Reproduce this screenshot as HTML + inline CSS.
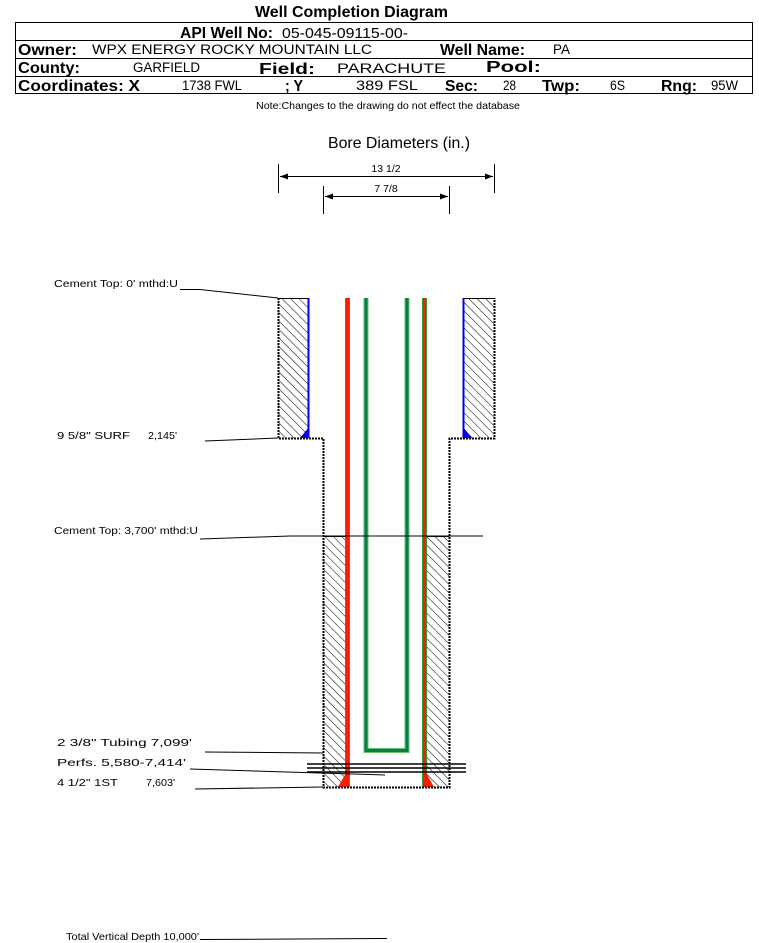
<!DOCTYPE html>
<html><head><meta charset="utf-8"><style>
html,body{margin:0;padding:0;background:#fff;width:759px;height:943px;overflow:hidden}
svg{display:block}
text{font-family:"Liberation Sans",Arial,sans-serif;fill:#000}
</style></head><body>
<svg width="759" height="943" viewBox="0 0 759 943" xmlns="http://www.w3.org/2000/svg">
<defs>
<pattern id="h" patternUnits="userSpaceOnUse" width="6" height="6" patternTransform="rotate(-45)">
<rect width="6" height="6" fill="#fff"/><line x1="0" y1="0" x2="0" y2="6" stroke="#000" stroke-width="1"/>
</pattern>
<marker id="a" markerWidth="8" markerHeight="6" refX="8" refY="3" orient="auto"><path d="M0,0 L8,3 L0,6z" fill="#000"/></marker>
<marker id="b" markerWidth="8" markerHeight="6" refX="0" refY="3" orient="auto"><path d="M8,0 L0,3 L8,6z" fill="#000"/></marker>
</defs>
<g lengthAdjust="spacingAndGlyphs">
<text x="255" y="17" font-size="16" font-weight="bold" textLength="193" lengthAdjust="spacingAndGlyphs">Well Completion Diagram</text>
</g>
<rect x="15.5" y="22.5" width="737" height="71" fill="none" stroke="#000"/>
<line x1="15" y1="40.5" x2="753" y2="40.5" stroke="#000"/>
<line x1="15" y1="58.5" x2="753" y2="58.5" stroke="#000"/>
<line x1="15" y1="76.5" x2="753" y2="76.5" stroke="#000"/>
<text x="180" y="38" font-size="16" font-weight="bold" textLength="93" lengthAdjust="spacingAndGlyphs">API Well No:</text>
<text x="282" y="38" font-size="15" textLength="126" lengthAdjust="spacingAndGlyphs">05-045-09115-00-</text>
<text x="18" y="55" font-size="16" font-weight="bold" textLength="59" lengthAdjust="spacingAndGlyphs">Owner:</text>
<text x="92" y="54" font-size="13.5" textLength="280" lengthAdjust="spacingAndGlyphs">WPX ENERGY ROCKY MOUNTAIN LLC</text>
<text x="440" y="55" font-size="16" font-weight="bold" textLength="85" lengthAdjust="spacingAndGlyphs">Well Name:</text>
<text x="553" y="54" font-size="13.5" textLength="17" lengthAdjust="spacingAndGlyphs">PA</text>
<text x="18" y="73" font-size="16" font-weight="bold" textLength="62" lengthAdjust="spacingAndGlyphs">County:</text>
<text x="133" y="72" font-size="13.5" textLength="67" lengthAdjust="spacingAndGlyphs">GARFIELD</text>
<text x="259" y="74" font-size="16" font-weight="bold" textLength="56" lengthAdjust="spacingAndGlyphs">Field:</text>
<text x="337" y="73" font-size="13.5" textLength="109" lengthAdjust="spacingAndGlyphs">PARACHUTE</text>
<text x="486" y="72" font-size="16" font-weight="bold" textLength="55" lengthAdjust="spacingAndGlyphs">Pool:</text>
<text x="18" y="91" font-size="16" font-weight="bold" textLength="122" lengthAdjust="spacingAndGlyphs">Coordinates: X</text>
<text x="182" y="90" font-size="13.5" textLength="60" lengthAdjust="spacingAndGlyphs">1738 FWL</text>
<text x="285" y="91" font-size="16" font-weight="bold" textLength="18" lengthAdjust="spacingAndGlyphs">; Y</text>
<text x="356" y="90" font-size="13.5" textLength="62" lengthAdjust="spacingAndGlyphs">389 FSL</text>
<text x="445" y="91" font-size="16" font-weight="bold" textLength="33" lengthAdjust="spacingAndGlyphs">Sec:</text>
<text x="503" y="90" font-size="13.5" textLength="13" lengthAdjust="spacingAndGlyphs">28</text>
<text x="542" y="91" font-size="16" font-weight="bold" textLength="38" lengthAdjust="spacingAndGlyphs">Twp:</text>
<text x="610" y="90" font-size="13.5" textLength="15" lengthAdjust="spacingAndGlyphs">6S</text>
<text x="661" y="91" font-size="16" font-weight="bold" textLength="36" lengthAdjust="spacingAndGlyphs">Rng:</text>
<text x="711" y="90" font-size="13.5" textLength="27" lengthAdjust="spacingAndGlyphs">95W</text>
<text x="256" y="109" font-size="10" textLength="264" lengthAdjust="spacingAndGlyphs">Note:Changes to the drawing do not effect the database</text>

<text x="328" y="148" font-size="16" textLength="142" lengthAdjust="spacingAndGlyphs">Bore Diameters (in.)</text>
<text x="386" y="172" text-anchor="middle" font-size="10.5">13 1/2</text>
<text x="386" y="192" text-anchor="middle" font-size="10.5">7 7/8</text>
<g stroke="#000" stroke-width="1">
<line x1="278.5" y1="164" x2="278.5" y2="193"/><line x1="494.5" y1="164" x2="494.5" y2="193"/>
<line x1="280" y1="176.5" x2="493" y2="176.5" marker-start="url(#b)" marker-end="url(#a)"/>
<line x1="323.5" y1="186" x2="323.5" y2="214"/><line x1="449.5" y1="186" x2="449.5" y2="214"/>
<line x1="325" y1="196.5" x2="448" y2="196.5" marker-start="url(#b)" marker-end="url(#a)"/>
</g>

<rect x="278" y="298" width="30" height="140" fill="url(#h)"/>
<rect x="464" y="298" width="30" height="140" fill="url(#h)"/>
<rect x="323" y="536" width="24" height="251" fill="url(#h)"/>
<rect x="425" y="536" width="24" height="251" fill="url(#h)"/>
<line x1="278" y1="298.5" x2="308" y2="298.5" stroke="#000"/>
<line x1="464" y1="298.5" x2="494" y2="298.5" stroke="#000"/>
<line x1="323" y1="536.5" x2="347" y2="536.5" stroke="#000"/>
<line x1="425" y1="536.5" x2="449" y2="536.5" stroke="#000"/>
<line x1="308.5" y1="298" x2="308.5" y2="438" stroke="#0000ee" stroke-width="2"/>
<line x1="463.5" y1="298" x2="463.5" y2="438" stroke="#0000ee" stroke-width="2"/>
<path d="M309,427 L309,438 L300,438z" fill="#0000ee"/>
<path d="M463,427 L463,438 L472,438z" fill="#0000ee"/>
<rect x="345" y="298" width="5" height="489" fill="#2a9a3a"/>
<rect x="346" y="298" width="3" height="489" fill="#ff1a00"/>
<rect x="422" y="298" width="5" height="489" fill="#2a9a3a"/>
<rect x="423" y="298" width="3" height="489" fill="#ff1a00"/>
<path d="M346,773 L346,787 L338,787z" fill="#ff1a00"/>
<path d="M426,773 L426,787 L434,787z" fill="#ff1a00"/>
<path d="M366,298 L366,750.5 L407,750.5 L407,298" fill="none" stroke="#6fbf6f" stroke-width="5"/>
<path d="M366,298 L366,750.5 L407,750.5 L407,298" fill="none" stroke="#00804a" stroke-width="3"/>
<path d="M278.5,298 L278.5,438.5 L323.5,438.5 L323.5,787.5 L449.5,787.5 L449.5,438.5 L494.5,438.5 L494.5,298" fill="none" stroke="#000" stroke-width="2" stroke-dasharray="2 1"/>
<g stroke="#000" stroke-width="1.5">
<line x1="307" y1="764" x2="466" y2="764"/><line x1="307" y1="768" x2="466" y2="768"/><line x1="307" y1="772" x2="466" y2="772"/>
</g>
<g font-size="10.5">
<text x="54" y="287" textLength="124" lengthAdjust="spacingAndGlyphs">Cement Top: 0' mthd:U</text>
<text x="57" y="439" textLength="73" lengthAdjust="spacingAndGlyphs">9 5/8" SURF</text><text x="148" y="439" textLength="29" lengthAdjust="spacingAndGlyphs">2,145'</text>
<text x="54" y="534" textLength="144" lengthAdjust="spacingAndGlyphs">Cement Top: 3,700' mthd:U</text>
<text x="57" y="746" textLength="135" lengthAdjust="spacingAndGlyphs">2 3/8" Tubing 7,099'</text>
<text x="57" y="766" textLength="129" lengthAdjust="spacingAndGlyphs">Perfs. 5,580-7,414'</text>
<text x="57" y="786" textLength="61" lengthAdjust="spacingAndGlyphs">4 1/2" 1ST</text><text x="146" y="786" textLength="29" lengthAdjust="spacingAndGlyphs">7,603'</text>
<text x="66" y="940" textLength="133" lengthAdjust="spacingAndGlyphs">Total Vertical Depth 10,000'</text>
</g>
<g stroke="#000" stroke-width="1" fill="none">
<path d="M180,289.5 L200,289.5 L278,298"/>
<path d="M205,441 L278,438"/>
<path d="M200,539 L290,536 L483,536"/>
<path d="M205,752 L323,753"/>
<path d="M190,769 L385,775"/>
<path d="M195,789 L323,787"/>
<path d="M200,939.5 L387,938.5"/>
</g>
</svg>
</body></html>
